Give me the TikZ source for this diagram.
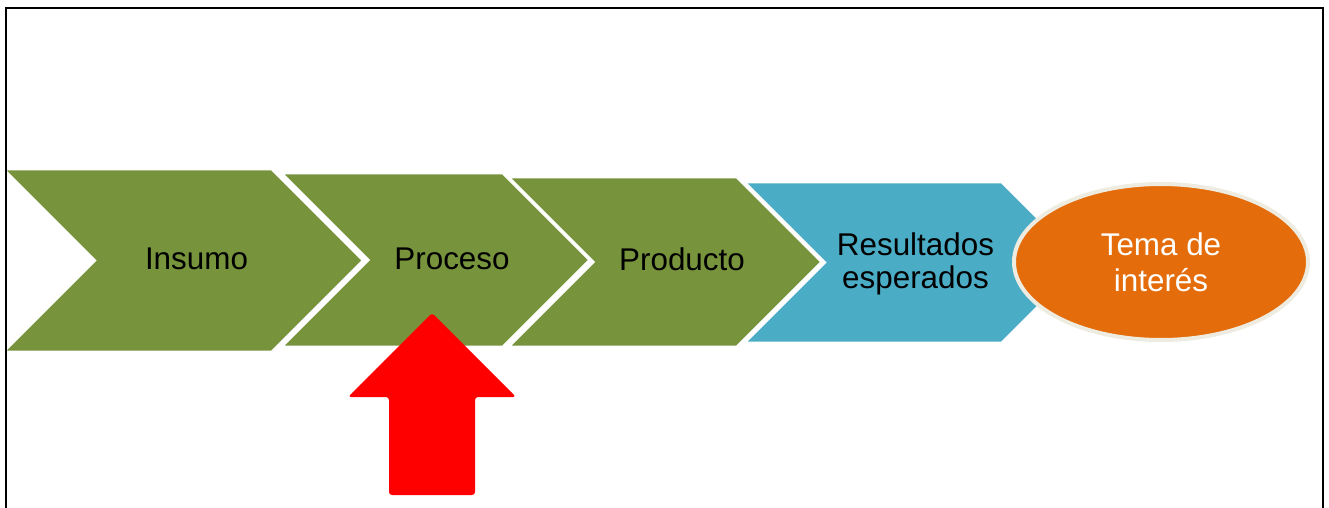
\documentclass[tikz,border=0pt]{standalone}
\usepackage{fontspec}
\setmainfont{Liberation Sans}
\usetikzlibrary{shapes.geometric}
\definecolor{verde}{HTML}{77933C}
\definecolor{azul}{HTML}{4BACC6}
\definecolor{naranja}{HTML}{E46C0A}
\definecolor{crema}{HTML}{EEECE1}
\begin{document}
\begin{tikzpicture}[x=0.5pt,y=-0.5pt,
   chev/.style={draw=white,line width=1.5pt,line join=miter},
   etiq/.style={font=\fontsize{15.7}{16.5}\selectfont,align=center,inner sep=0pt}]
   \useasboundingbox (0,0) rectangle (1329,508);

   % 矢羽根
   \filldraw[chev,fill=verde] (3,169) -- (272,169) -- (363.5,260.5) -- (272,352) -- (3,352) -- (94.5,260.5) -- cycle;
   \filldraw[chev,fill=verde] (281,173) -- (503,173) -- (590,260) -- (503,347) -- (281,347) -- (368,260) -- cycle;
   \filldraw[chev,fill=verde] (508,177) -- (737,177) -- (822,262) -- (737,347) -- (508,347) -- (593,262) -- cycle;
   \filldraw[chev,fill=azul] (744,182) -- (1002,182) -- (1082.5,262.5) -- (1002,343) -- (744,343) -- (824.5,262.5) -- cycle;

   \node[etiq] (insumo) at (196.5,258.5) {Insumo};
   \node[etiq] (proceso) at (452,258.5) {Proceso};
   \node[etiq] (producto) at (682,259.5) {Producto};
   \node[etiq] (resultados) at (915.5,263.5) {Resultados\\esperados};

   % 楕円
   \node[etiq,ellipse,draw=crema,line width=2pt,fill=naranja,text=white,
         minimum width=147pt,minimum height=78pt,
         font=\fontsize{15.7}{18}\selectfont] (tema) at (1161,262) {Tema de\\interés};

   % 赤い矢印
   \fill[red,rounded corners=1.5pt] (432,313) -- (516,397) -- (475,397) -- (475,495)
      -- (389,495) -- (389,397) -- (348,397) -- cycle;

   % 枠
   \draw[line width=1pt] (6,530) -- (6,8) -- (1323,8) -- (1323,530);
\end{tikzpicture}
\end{document}
